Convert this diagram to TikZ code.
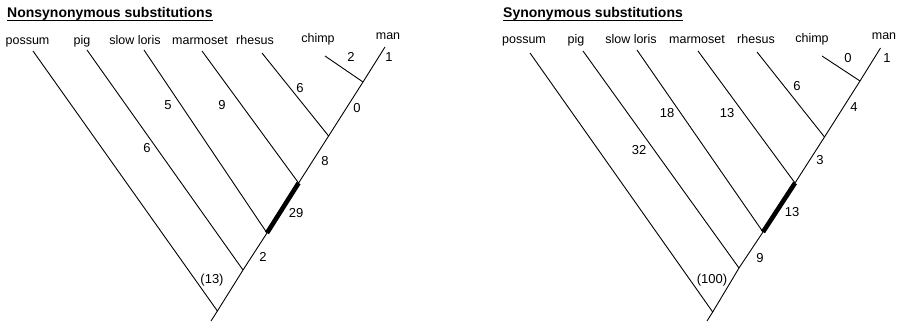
\documentclass[tikz,border=0pt]{standalone}
\usepackage{fontspec}
\setmainfont{Liberation Sans}
\begin{document}
\begin{tikzpicture}[x=1pt,y=-1pt,
  branch/.style={line width=0.9pt},
  thickbranch/.style={line width=4.6pt},
  taxon/.style={font=\fontsize{12.5}{14}\selectfont, anchor=base, inner sep=0pt},
  num/.style={font=\fontsize{13}{14}\selectfont, inner sep=0pt},
  heading/.style={font=\fontsize{14}{16}\selectfont\bfseries, anchor=base west, inner sep=0pt},
  uline/.style={line width=1pt}]
\useasboundingbox (0,0) rectangle (900,323);

% ---------------- Left tree ----------------
\node[heading] (t1) at (7,18) {Nonsynonymous substitutions};
\draw[uline] ([yshift=-2.2pt]t1.base west) -- ([yshift=-2.2pt]t1.base east);

\node[taxon] (l1) at (27.5,45) {possum};
\node[taxon] (l2) at (82,45) {pig};
\node[taxon] (l3) at (135,45) {slow loris};
\node[taxon] (l4) at (200,45) {marmoset};
\node[taxon] (l5) at (255,45) {rhesus};
\node[taxon] (l6) at (318,43) {chimp};
\node[taxon] (l7) at (388,40) {man};

\coordinate (La) at (33,51);
\coordinate (Lb) at (87,50);
\coordinate (Lc) at (144,50);
\coordinate (Ld) at (202,51);
\coordinate (Le) at (262,53);
\coordinate (Lf) at (325,56);
\coordinate (Lg) at (385,47);

\coordinate (Lroot) at (211,321);
\coordinate (Lpos) at (217.4,311);
\coordinate (Lpig) at (243,270);
\coordinate (Llor) at (267,233);
\coordinate (Lmar) at (298.6,183);
\coordinate (Lrhe) at (328.6,136);
\coordinate (Lchi) at (363,82);

\draw[branch] (Lroot) -- (Lpos) -- (Lpig) -- (Llor);
\draw[thickbranch] (Llor) -- (Lmar);
\draw[branch] (Lmar) -- (Lrhe) -- (Lchi) -- (Lg);
\draw[branch] (La) -- (Lpos);
\draw[branch] (Lb) -- (Lpig);
\draw[branch] (Lc) -- (Llor);
\draw[branch] (Ld) -- (Lmar);
\draw[branch] (Le) -- (Lrhe);
\draw[branch] (Lf) -- (Lchi);

\node[num] (ln1) at (351,57) {2};
\node[num] (ln2) at (389,57) {1};
\node[num] (ln3) at (300,88) {6};
\node[num] (ln4) at (168,105) {5};
\node[num] (ln5) at (222,105) {9};
\node[num] (ln6) at (357,108) {0};
\node[num] (ln7) at (147,148) {6};
\node[num] (ln8) at (325,161) {8};
\node[num] (ln9) at (296,213) {29};
\node[num] (ln10) at (263,257) {2};
\node[num] (ln11) at (212,280) {(13)};

% ---------------- Right tree ----------------
\node[heading] (t2) at (503,18) {Synonymous substitutions};
\draw[uline] ([yshift=-2.2pt]t2.base west) -- ([yshift=-2.2pt]t2.base east);

\node[taxon] (r1) at (524,44) {possum};
\node[taxon] (r2) at (576,44) {pig};
\node[taxon] (r3) at (631,44) {slow loris};
\node[taxon] (r4) at (697,44) {marmoset};
\node[taxon] (r5) at (756,44) {rhesus};
\node[taxon] (r6) at (812,43) {chimp};
\node[taxon] (r7) at (884,40) {man};

\coordinate (Ra) at (530,53);
\coordinate (Rb) at (583,51);
\coordinate (Rc) at (637,50);
\coordinate (Rd) at (698,51);
\coordinate (Re) at (757,52);
\coordinate (Rf) at (822,56);
\coordinate (Rg) at (880.5,48);

\coordinate (Rroot) at (707,321);
\coordinate (Rpos) at (712.7,312);
\coordinate (Rpig) at (739,268);
\coordinate (Rlor) at (763,232);
\coordinate (Rmar) at (795,183);
\coordinate (Rrhe) at (824.5,137);
\coordinate (Rchi) at (860,81);

\draw[branch] (Rroot) -- (Rpos) -- (Rpig) -- (Rlor);
\draw[thickbranch] (Rlor) -- (Rmar);
\draw[branch] (Rmar) -- (Rrhe) -- (Rchi) -- (Rg);
\draw[branch] (Ra) -- (Rpos);
\draw[branch] (Rb) -- (Rpig);
\draw[branch] (Rc) -- (Rlor);
\draw[branch] (Rd) -- (Rmar);
\draw[branch] (Re) -- (Rrhe);
\draw[branch] (Rf) -- (Rchi);

\node[num] (rn1) at (848,58) {0};
\node[num] (rn2) at (887,58) {1};
\node[num] (rn3) at (797,86) {6};
\node[num] (rn4) at (854,107) {4};
\node[num] (rn5) at (667,113) {18};
\node[num] (rn6) at (727,113) {13};
\node[num] (rn7) at (639,150) {32};
\node[num] (rn8) at (820,160) {3};
\node[num] (rn9) at (792,212) {13};
\node[num] (rn10) at (760,258) {9};
\node[num] (rn11) at (712,280) {(100)};
\end{tikzpicture}
\end{document}
